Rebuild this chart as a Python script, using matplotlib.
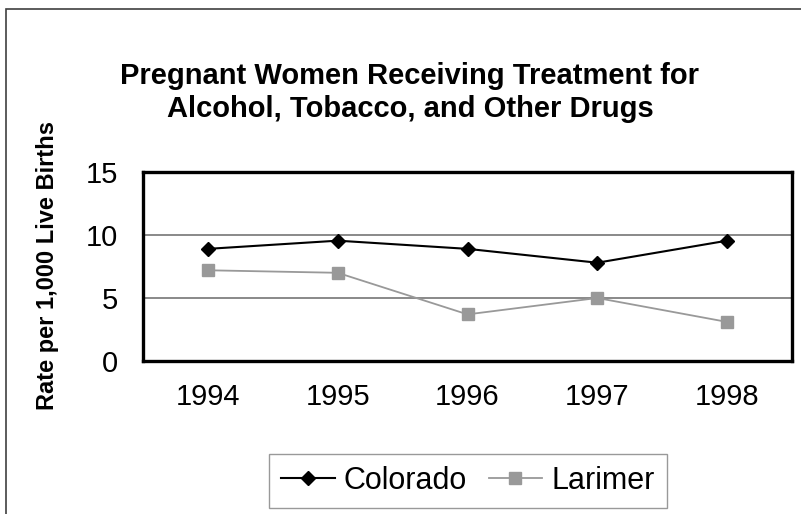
import matplotlib
matplotlib.use("Agg")
import matplotlib.pyplot as plt
from matplotlib.patches import Rectangle

plt.rcParams["font.family"] = ["Liberation Sans", "DejaVu Sans"]

# -----------------------------
# DATA
# -----------------------------
years = ["1994", "1995", "1996", "1997", "1998"]
colorado = [8.9, 9.55, 8.9, 7.8, 9.55]
larimer = [7.2, 7.0, 3.7, 5.0, 3.1]
y_ticks = [0, 5, 10, 15]

# -----------------------------
# FIGURE
# -----------------------------
fig = plt.figure(figsize=(8.01, 5.14), dpi=100)

# outer chart border (left/top visible, cropped right/bottom)
fig.patches.append(Rectangle((6 / 801, -0.05), 1.2, 1 - 9 / 514 + 0.05,
                             transform=fig.transFigure, fill=False,
                             edgecolor="#404040", linewidth=1.2))

ax = fig.add_axes([143 / 801, 1 - 361 / 514, 649 / 801, 189 / 514])

x = list(range(len(years)))
ax.plot(x, colorado, color="black", linewidth=1.5, marker="D",
        markersize=7.5, label="Colorado", zorder=4)
ax.plot(x, larimer, color="#999999", linewidth=1.3, marker="s",
        markersize=9, label="Larimer", zorder=3)

ax.set_xlim(-0.5, len(years) - 0.5)
ax.set_ylim(0, 15)
ax.set_yticks(y_ticks)
ax.set_xticks(x)
ax.set_xticklabels(years)

for y in [5, 10]:
    ax.axhline(y, color="#808080", linewidth=1.3, zorder=1)

for s in ax.spines.values():
    s.set_linewidth(2.4)
    s.set_color("black")

ax.tick_params(axis="both", length=0, labelsize=21)
ax.tick_params(axis="y", pad=18)
ax.tick_params(axis="x", pad=16)

# -----------------------------
# TEXT
# -----------------------------
fig.text(409 / 801, 1 - 76 / 514, "Pregnant Women Receiving Treatment for",
         ha="center", va="center", fontsize=21, fontweight="bold")
fig.text(410 / 801, 1 - 109 / 514, "Alcohol, Tobacco, and Other Drugs",
         ha="center", va="center", fontsize=21, fontweight="bold")
fig.text(48 / 801, 1 - 265 / 514, "Rate per 1,000 Live Births",
         rotation=90, ha="center", va="center", fontsize=17, fontweight="bold")

leg = fig.legend(loc="center", bbox_to_anchor=(468 / 801, 1 - 481 / 514),
                 ncol=2, fontsize=22, frameon=True, fancybox=False,
                 handlelength=1.75, handletextpad=0.3, columnspacing=0.7,
                 borderpad=0.4, borderaxespad=0)
leg.get_frame().set_edgecolor("#808080")
leg.get_frame().set_linewidth(1.0)

fig.savefig("out.png", dpi=100)
